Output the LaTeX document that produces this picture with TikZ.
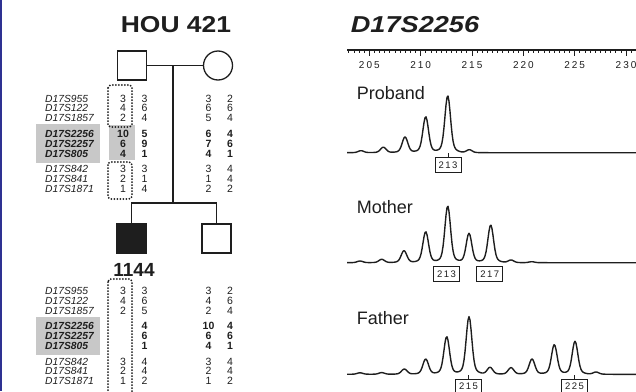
\documentclass[tikz,border=0pt]{standalone}
\usepackage{fontspec}
\setmainfont{Liberation Sans}
\definecolor{edgeblue}{RGB}{46,49,146}
\definecolor{ink}{RGB}{30,30,30}
\definecolor{hlgray}{RGB}{200,200,200}
\begin{document}
\begin{tikzpicture}[x=1pt,y=-1pt,
  declare function={G(\u,\c,\h)=\h*(0.88*exp(-min(((\u-\c)/3.8)*((\u-\c)/3.8),14))+0.12*exp(-min(((\u-\c)/9)*((\u-\c)/9),14)));},
  ped/.style={draw=ink,line width=1.3pt,minimum size=29pt,inner sep=0pt},
  pline/.style={draw=ink,line width=1.8pt},
  mk/.style={anchor=west,inner sep=0pt,text=ink,font=\fontsize{10.3}{10.3}\selectfont\itshape},
  mkb/.style={anchor=west,inner sep=0pt,text=ink,font=\fontsize{10.3}{10.3}\selectfont\bfseries\itshape},
  al/.style={inner sep=0pt,text=ink,font=\fontsize{10.5}{10.5}\selectfont},
  alb/.style={inner sep=0pt,text=ink,font=\fontsize{10.5}{10.5}\selectfont\bfseries},
  dotbox/.style={draw=ink,line width=2pt,dash pattern=on 0pt off 3pt,line cap=round,rounded corners=3pt},
  trace/.style={draw=ink,line width=1.4pt,line join=round},
  pk/.style={draw=ink,line width=0.8pt,minimum width=26pt,minimum height=15pt,inner sep=0pt,text=ink,font=\fontsize{9.5}{9.5}\selectfont\addfontfeature{LetterSpace=15}},
  tlbl/.style={anchor=west,inner sep=0pt,text=ink,font=\fontsize{18}{18}\selectfont},
  axlbl/.style={inner sep=0pt,text=ink,font=\fontsize{10}{10}\selectfont\addfontfeature{LetterSpace=20}},
]
\useasboundingbox (0,0) rectangle (636,391);
\begin{scope}
\clip (0,0) rectangle (636,391);
\fill[edgeblue] (0,0) rectangle (2,391);

% ---------- titles ----------
\node[inner sep=0pt,text=ink,font=\fontsize{23}{23}\selectfont\bfseries] (hou) at (176,25) {\scalebox{1.15}[1]{HOU 421}};
\node[inner sep=0pt,text=ink,font=\fontsize{23}{23}\selectfont\bfseries\itshape] (locus) at (415,25) {\scalebox{1.18}[1]{D17S2256}};

% ---------- highlights ----------
\fill[hlgray] (36,124) rectangle (100,163);
\fill[hlgray] (109,125) rectangle (135,160);
\fill[hlgray] (36,316.7) rectangle (100,355);

% ---------- pedigree ----------
\node[ped,rectangle] (father) at (132,65.5) {};
\node[ped,circle] (mother) at (218,65.5) {};
\coordinate (mid) at (173,65.5);
\coordinate (sib) at (173,203);
\node[ped,rectangle,fill=ink] (proband) at (131.5,238.5) {};
\node[ped,rectangle] (brother) at (216.5,238.5) {};
\coordinate (sibL) at (proband.north |- sib);
\coordinate (sibR) at (brother.north |- sib);
\draw[pline] (father.east) -- (mother.west);
\draw[pline] (mid) -- (sib);
\draw[pline,line join=miter] (proband.north) -- (sibL) -- (sibR) -- (brother.north);
\node[inner sep=0pt,text=ink,font=\fontsize{19}{19}\selectfont\bfseries] (id) at (134,269.5) {1144};

% ---------- marker labels ----------
\foreach \y/\n/\s [count=\i] in {98.7/D17S955/mk,108.3/D17S122/mk,117.7/D17S1857/mk,133.7/D17S2256/mkb,143.7/D17S2257/mkb,153.7/D17S805/mkb,169/D17S842/mk,179/D17S841/mk,188.7/D17S1871/mk}
  \node[\s] (mt\i) at (45,\y) {\n};
\foreach \y/\n/\s [count=\i] in {291/D17S955/mk,301/D17S122/mk,310.7/D17S1857/mk,325.7/D17S2256/mkb,335.7/D17S2257/mkb,345.7/D17S805/mkb,361.7/D17S842/mk,371.3/D17S841/mk,381/D17S1871/mk}
  \node[\s] (mb\i) at (45,\y) {\n};

% ---------- alleles ----------
\foreach \y/\a/\b/\c/\d/\s [count=\i] in {98.7/3/3/3/2/al,108.3/4/6/6/6/al,117.7/2/4/5/4/al,133.7/10/5/6/4/alb,143.7/6/9/7/6/alb,153.7/4/1/4/1/alb,169/3/3/3/4/al,179/2/1/1/4/al,188.7/1/4/2/2/al}{
  \node[\s] (fa\i) at (123,\y) {\a};
  \node[\s] (fb\i) at (144.5,\y) {\b};
  \node[\s] (ma\i) at (208.5,\y) {\c};
  \node[\s] (mbb\i) at (230,\y) {\d};
}
\foreach \y/\a/\b/\c/\d/\s [count=\i] in {291/3/3/3/2/al,301/4/6/4/6/al,310.7/2/5/2/4/al,325.7//4/10/4/alb,335.7//6/6/6/alb,345.7//1/4/1/alb,361.7/3/4/3/4/al,371.3/2/4/2/4/al,381/1/2/1/2/al}{
  \node[\s] (ca\i) at (123,\y) {\a};
  \node[\s] (cb\i) at (144.5,\y) {\b};
  \node[\s] (sa\i) at (208.5,\y) {\c};
  \node[\s] (sb\i) at (230,\y) {\d};
}
\draw[dotbox] (108,85) rectangle (132,127);
\draw[dotbox] (108,162) rectangle (132,199);
\draw[dotbox] (108,279) rectangle (132,410);

% ---------- size axis ----------
\draw[draw=ink,line width=1.2pt] (347,50) -- (640,50);
\foreach \v in {203,203.5,...,231}
  \draw[draw=ink,line width=0.8pt] ({369.3+(\v-205)*10.27},50) -- ++(0,3);
\foreach \v in {205,210,...,230}{
  \draw[draw=ink,line width=0.9pt] ({369.3+(\v-205)*10.27},50) -- ++(0,6);
  \node[axlbl] (ax\v) at ({369.3+(\v-205)*10.27},65.3) {\v};
}

% ---------- traces ----------
\node[tlbl] (lp) at (356.7,93.3) {Proband};
\draw[trace] plot[domain=347:640,samples=294] (\x,{152.7-G(\x,361,2)-G(\x,383.3,5.5)-G(\x,405,15.7)-G(\x,425.7,36)-G(\x,447.7,57)-G(\x,469.3,3)});
\node[pk] (p213) at (448,165) {213};
\draw[draw=ink,line width=0.8pt] (448,153) -- (p213.north);

\node[tlbl] (lm) at (356.7,206.7) {Mother};
\draw[trace] plot[domain=347:640,samples=294] (\x,{262.7-G(\x,360,1.7)-G(\x,381.7,3.4)-G(\x,404,12)-G(\x,425.7,31)-G(\x,447.7,56.7)-G(\x,469,29.4)-G(\x,490.7,37.7)-G(\x,511,2.7)-G(\x,531.7,1)});
\node[pk] (m213) at (446.5,274) {213};
\node[pk] (m217) at (489.7,274) {217};

\node[tlbl] (lf) at (356.7,317.7) {Father};
\draw[trace] plot[domain=347:640,samples=294] (\x,{374.3-G(\x,360,1.5)-G(\x,381.7,1.7)-G(\x,404.3,5.3)-G(\x,425.7,15.3)-G(\x,446.7,37.7)-G(\x,469,57.7)-G(\x,490,7)-G(\x,511,6.7)-G(\x,532,15.3)-G(\x,554.3,29.7)-G(\x,575,33)-G(\x,596,2.3)});
\node[pk] (f215) at (468.5,386.5) {215};
\node[pk] (f225) at (574.5,386.5) {225};
\draw[draw=ink,line width=0.8pt] (468.5,375) -- (f215.north);
\draw[draw=ink,line width=0.8pt] (574.5,375) -- (f225.north);
\end{scope}
\end{tikzpicture}
\end{document}
